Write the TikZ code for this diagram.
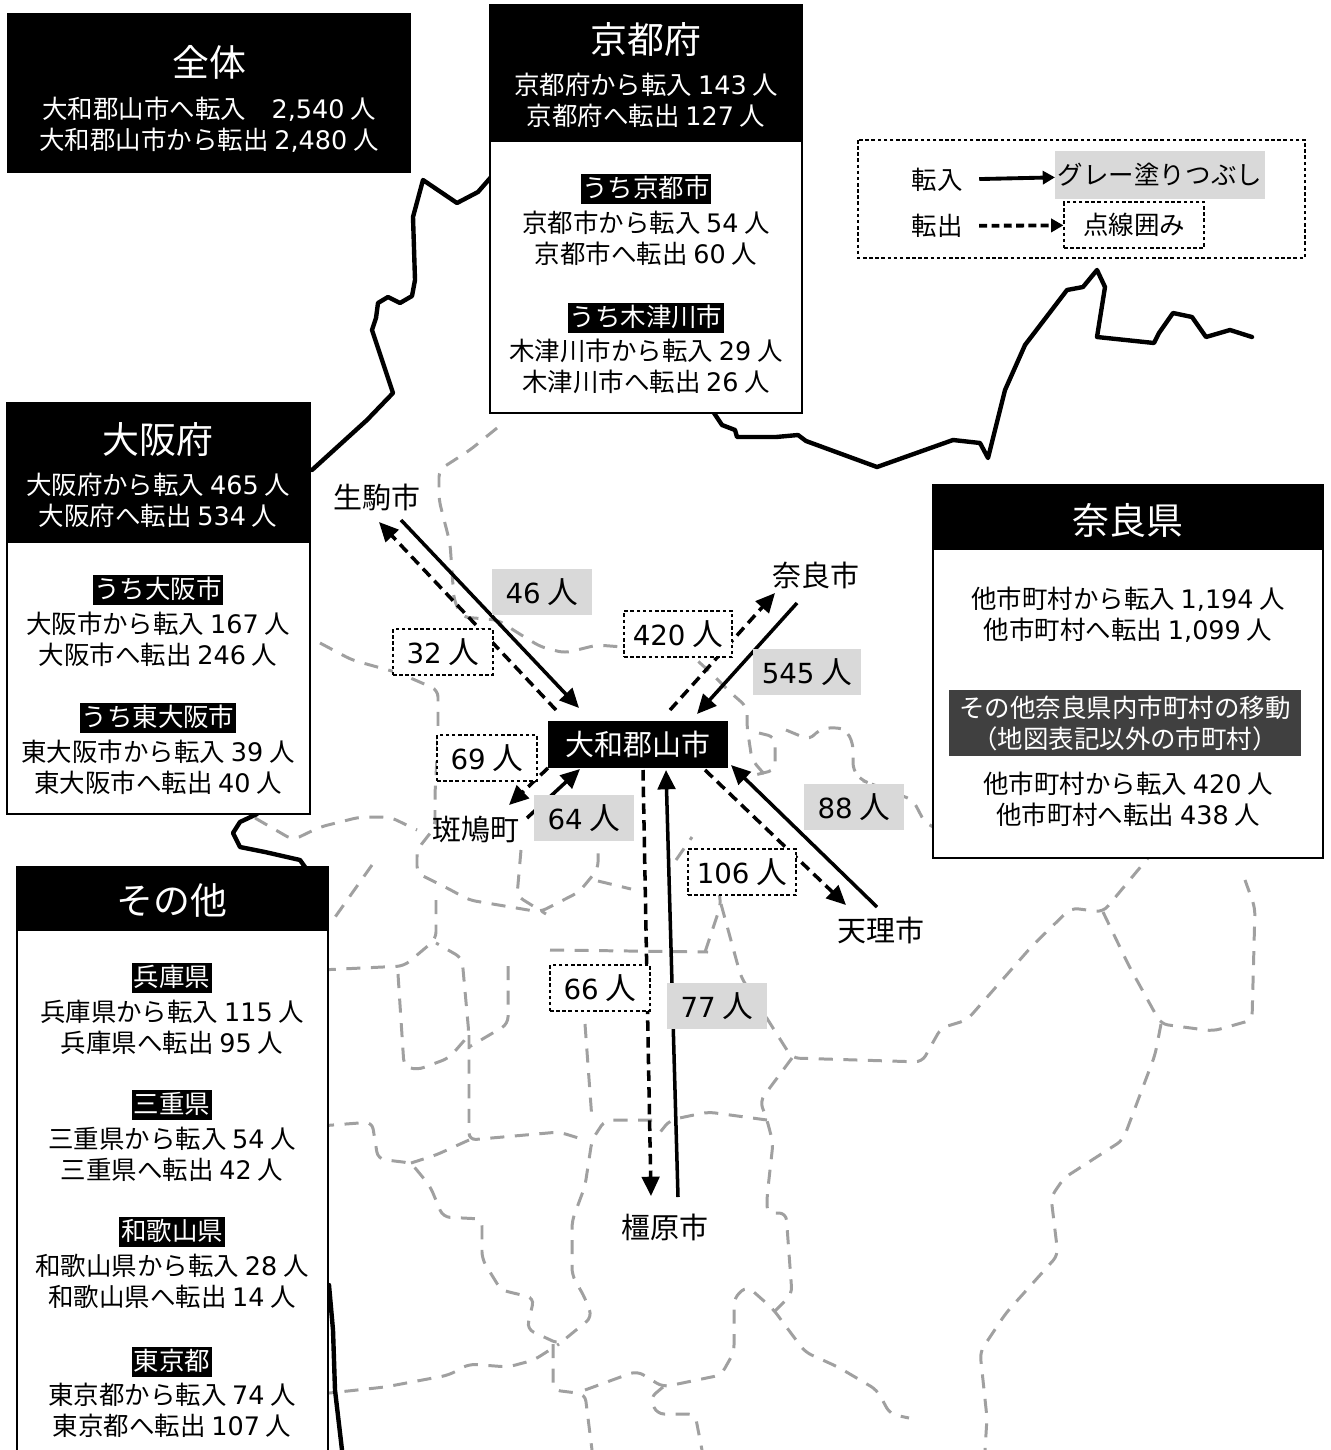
\documentclass[tikz,border=0pt]{standalone}
\usepackage{fontspec}
\setmainfont{Noto Sans CJK JP}
\newfontfamily\digitfont{DejaVu Sans}
\newfontfamily\mapdigitfont{DejaVu Sans}[Scale=0.9]
\usetikzlibrary{arrows.meta}
\definecolor{fillgray}{HTML}{D9D9D9}
\definecolor{notegray}{HTML}{404040}
\definecolor{wardgray}{HTML}{A0A0A0}
\newcommand\bodysize{\fontsize{14.5}{17.6}\selectfont}
\newcommand\headsize{\fontsize{21}{25}\selectfont}
\newcommand\citysize{\fontsize{16.5}{20}\selectfont}
\newcommand\numsize{\fontsize{17.5}{21}\selectfont}
\newcommand\digits[1]{{\digitfont #1}}
\newcommand\mapdigits[1]{{\mapdigitfont #1}}

\begin{document}
\begin{tikzpicture}[x=0.02cm, y=-0.02cm]
			\tikzset{
			  headfill/.style = {fill=black},
			  boxframe/.style = {draw=black, line width=1.2pt, fill=white},
			  headtitle/.style = {text=white, font=\headsize, inner sep=0pt},
			  headline/.style = {text=white, align=center, font=\bodysize, inner sep=0pt},
			  bodyline/.style = {align=center, font=\bodysize, inner sep=0pt},
			  subtag/.style = {fill=black, text=white, font=\bodysize, inner xsep=1pt,
			                   inner ysep=1.2pt, text height=12.6pt, text depth=2.4pt},
			  citylabel/.style = {font=\citysize, inner sep=1pt},
			  inbox/.style = {fill=fillgray, font=\numsize, minimum width=2cm,
			                  minimum height=0.92cm, inner xsep=5pt},
			  outbox/.style = {inbox, fill=white, draw=black, line width=0.7pt,
			                   dash pattern=on 2pt off 1.5pt},
			  inflow/.style = {line width=2pt, -{Triangle[length=11pt,width=10pt]}},
			  outflow/.style = {inflow, dash pattern=on 6pt off 3.5pt},
			  legendtip/.style = {line width=2.2pt, -{Triangle[length=7pt,width=7.5pt]}},
			  wardline/.style = {draw=wardgray, line width=1.7pt, rounded corners=4pt,
			                     dash pattern=on 8pt off 6pt},
			  prefline/.style = {draw=black, line width=2.5pt, line join=round, line cap=round}
			}
			\path[use as bounding box] (0,0) rectangle (1330,1450);
			\clip (0,0) rectangle (1330,1450);
			% municipal boundaries
			\draw[wardline] (497,428) -- (470,450) -- (439,470) -- (439,500) -- (450,543) -- (454,600)
			  -- (462,617) -- (498,620) -- (518,633) -- (541,647) -- (565,653) -- (597,645) -- (688,652)
			  -- (711,673) -- (731,693) -- (747,707) -- (747,727) -- (752,760) -- (765,775);
			\draw[wardline] (320,643) -- (352,660) -- (399,673) -- (438,690) -- (438,740) -- (435,793)
			  -- (435,827) -- (417,850) -- (417,873) -- (449,889) -- (469,900) -- (540,912) -- (579,892)
			  -- (598,869) -- (598,850);
			\draw[wardline] (255,818) -- (293,840) -- (320,827) -- (360,817) -- (390,817) -- (417,830);
			\draw[wardline] (372,865) -- (333,920);
			\draw[wardline] (521,850) -- (517,896) -- (546,914);
			\draw[wardline] (598,881) -- (631,889);
			\draw[wardline] (436,900) -- (436,939) -- (404,966) -- (320,970);
			\draw[wardline] (398,974) -- (404,1066) -- (417,1070) -- (449,1058) -- (469,1035) -- (462,958)
			  -- (436,943);
			\draw[wardline] (550,950) -- (708,952);
			\draw[wardline] (508,966) -- (508,1024) -- (469,1047);
			\draw[wardline] (705,952) -- (721,904) -- (713,860);
			\draw[wardline] (676,860) -- (692,837);
			\draw[wardline] (721,904) -- (741,977) -- (773,1028) -- (792,1058) -- (922,1062) -- (941,1028)
			  -- (967,1020) -- (1032,946) -- (1071,908) -- (1103,912) -- (1148,858);
			\draw[wardline] (1103,912) -- (1129,966) -- (1161,1024) -- (1213,1031) -- (1252,1020)
			  -- (1255,908) -- (1245,880);
			\draw[wardline] (1161,1024) -- (1155,1055) -- (1123,1140) -- (1064,1178) -- (1051,1197)
			  -- (1058,1255) -- (1006,1313) -- (980,1352) -- (987,1418) -- (985,1450);
			\draw[wardline] (792,1058) -- (760,1101) -- (767,1120) -- (773,1143) -- (767,1197) -- (767,1213)
			  -- (786,1213) -- (792,1294) -- (773,1313);
			\draw[wardline] (767,1120) -- (708,1112) -- (670,1120) -- (657,1136);
			\draw[wardline] (320,1126) -- (372,1122) -- (378,1159) -- (411,1163) -- (430,1186) -- (443,1217)
			  -- (482,1219) -- (482,1259) -- (501,1290) -- (534,1298) -- (527,1329) -- (559,1344)
			  -- (592,1317) -- (585,1298) -- (572,1275) -- (572,1221) -- (585,1186) -- (592,1140)
			  -- (605,1120) -- (657,1120);
			\draw[wardline] (469,1035) -- (469,1140) -- (514,1136) -- (559,1132) -- (585,1140);
			\draw[wardline] (469,1140) -- (436,1155) -- (411,1163);
			\draw[wardline] (585,1024) -- (592,1120);
			\draw[wardline] (320,1394) -- (385,1387) -- (449,1375) -- (469,1364) -- (508,1367) -- (534,1360)
			  -- (559,1344);
			\draw[wardline] (553,1344) -- (553,1390) -- (585,1394) -- (592,1450);
			\draw[wardline] (585,1390) -- (637,1371) -- (663,1387) -- (721,1375) -- (734,1352) -- (734,1298)
			  -- (747,1286) -- (773,1309) -- (805,1352) -- (838,1367) -- (877,1390) -- (890,1414) -- (909,1418);
			\draw[wardline] (663,1387) -- (650,1398) -- (657,1414) -- (695,1414) -- (702,1450);
			\draw[wardline] (759,733) -- (775,737) -- (775,770) -- (755,775);
			\draw[wardline] (786,730) -- (810,740) -- (818,730) -- (834,727) -- (846,730) -- (853,743)
			  -- (853,770) -- (861,780) -- (869,783) -- (913,800) -- (925,823) -- (940,830);
			% prefecture border
			\draw[prefline] (312,470) -- (367,420) -- (393,393) -- (372,330) -- (376,318) -- (378,303)
			  -- (388,297) -- (400,303) -- (412,296) -- (415,280) -- (413,217) -- (423,180) -- (457,203)
			  -- (478,192) -- (492,176);
			\draw[prefline] (714,413) -- (722,425) -- (735,430) -- (737,437) -- (776,437) -- (798,435)
			  -- (806,441) -- (877,467) -- (953,440) -- (980,443) -- (988,458) -- (1005,390) -- (1025,345)
			  -- (1067,290) -- (1083,287) -- (1097,270) -- (1105,287) -- (1097,337) -- (1154,343)
			  -- (1159,333) -- (1173,313) -- (1192,317) -- (1206,337) -- (1230,330) -- (1252,337);
			\draw[prefline] (257,814) -- (240,822) -- (233,833) -- (240,847) -- (265,852) -- (300,860)
			  -- (305,867);
			\draw[prefline] (329,1285) -- (333,1330) -- (335,1390) -- (342,1450);
			% total
			\fill[headfill] (7,13) rectangle (411,173);
			\node[headtitle] (all-title) at (209,62) {全体};
			\node[headline] (all-text) at (209,125) {大和郡山市へ転入　\digits{2,540} 人\\大和郡山市から転出 \digits{2,480} 人};
			% Kyoto
			\draw[boxframe] (490,5) rectangle (802,413);
			\fill[headfill] (490,5) rectangle (802,142);
			\node[headtitle] (kyoto-title) at (646,40) {京都府};
			\node[headline] (kyoto-text) at (646,100) {京都府から転入 \digits{143} 人\\京都府へ転出 \digits{127} 人};
			\node[subtag] (kyotocity-tag) at (646,189) {うち京都市};
			\node[bodyline] (kyotocity-text) at (646,238) {京都市から転入 \digits{54} 人\\京都市へ転出 \digits{60} 人};
			\node[subtag] (kizu-tag) at (646,318) {うち木津川市};
			\node[bodyline] (kizu-text) at (646,366) {木津川市から転入 \digits{29} 人\\木津川市へ転出 \digits{26} 人};
			% legend
			\draw[line width=0.7pt, dash pattern=on 2pt off 1.5pt] (858,140) rectangle (1305,258);
			\node[font=\bodysize] (legend-in) at (937,180) {転入};
			\node[fill=fillgray, font=\bodysize, inner xsep=1.5pt, minimum height=0.98cm] (legend-fill) at (1160,175) {グレー塗りつぶし};
			\node[font=\bodysize] (legend-out) at (937,226) {転出};
			\node[draw, line width=0.7pt, dash pattern=on 2pt off 1.5pt, font=\bodysize,
			      minimum width=2.8cm, minimum height=0.92cm] (legend-dash) at (1134,225) {点線囲み};
			\draw[legendtip, shorten <=6pt] (legend-in) -- (legend-fill);
			\draw[legendtip, dash pattern=on 4.5pt off 2.5pt, shorten <=6pt] (legend-out) -- (legend-dash);
			% Osaka
			\draw[boxframe] (7,403) rectangle (310,814);
			\fill[headfill] (7,403) rectangle (310,543);
			\node[headtitle] (osaka-title) at (158,440) {大阪府};
			\node[headline] (osaka-text) at (158,500) {大阪府から転入 \digits{465} 人\\大阪府へ転出 \digits{534} 人};
			\node[subtag] (osakacity-tag) at (158,590) {うち大阪市};
			\node[bodyline] (osakacity-text) at (158,639) {大阪市から転入 \digits{167} 人\\大阪市へ転出 \digits{246} 人};
			\node[subtag] (higashi-tag) at (158,718) {うち東大阪市};
			\node[bodyline] (higashi-text) at (158,767) {東大阪市から転入 \digits{39} 人\\東大阪市へ転出 \digits{40} 人};
			% Nara
			\draw[boxframe] (933,485) rectangle (1323,858);
			\fill[headfill] (933,485) rectangle (1323,550);
			\node[headtitle] (nara-title) at (1128,520) {奈良県};
			\node[bodyline] (nara-text) at (1128,615) {他市町村から転入 \digits{1,194} 人\\他市町村へ転出 \digits{1,099} 人};
			\node[fill=notegray, text=white, align=center, font=\bodysize,
			      minimum width=7.04cm, minimum height=1.32cm, inner sep=0pt] (nara-note) at (1125,723)
			      {その他奈良県内市町村の移動\\（地図表記以外の市町村）};
			\node[bodyline] (nara-rest) at (1128,799) {他市町村から転入 \digits{420} 人\\他市町村へ転出 \digits{438} 人};
			% others
			\draw[boxframe] (17,867) rectangle (328,1480);
			\fill[headfill] (17,867) rectangle (328,931);
			\node[headtitle] (other-title) at (172,900) {その他};
			\node[subtag] (hyogo-tag) at (172,978) {兵庫県};
			\node[bodyline] (hyogo-text) at (172,1027) {兵庫県から転入 \digits{115} 人\\兵庫県へ転出 \digits{95} 人};
			\node[subtag] (mie-tag) at (172,1105) {三重県};
			\node[bodyline] (mie-text) at (172,1154) {三重県から転入 \digits{54} 人\\三重県へ転出 \digits{42} 人};
			\node[subtag] (waka-tag) at (172,1232) {和歌山県};
			\node[bodyline] (waka-text) at (172,1281) {和歌山県から転入 \digits{28} 人\\和歌山県へ転出 \digits{14} 人};
			\node[subtag] (tokyo-tag) at (172,1362) {東京都};
			\node[bodyline] (tokyo-text) at (172,1410) {東京都から転入 \digits{74} 人\\東京都へ転出 \digits{107} 人};
			% flows
			\coordinate (ik1) at (401,520);  \coordinate (yk1) at (579,708);
			\coordinate (yk2) at (556,710);  \coordinate (ik2) at (379,522);
			\coordinate (nr1) at (797,603);  \coordinate (yk3) at (697,714);
			\coordinate (yk4) at (670,710);  \coordinate (nr2) at (775,593);
			\coordinate (ig1) at (527,818);  \coordinate (yk5) at (580,769);
			\coordinate (yk6) at (548,768);  \coordinate (ig2) at (509,805);
			\coordinate (tr1) at (877,907);  \coordinate (yk7) at (731,765);
			\coordinate (yk8) at (705,770);  \coordinate (tr2) at (846,905);
			\coordinate (kh1) at (678,1197); \coordinate (yk9) at (666,770);
			\coordinate (yk10) at (643,770); \coordinate (kh2) at (651,1196);
			\draw[inflow] (ik1) -- (yk1);
			\draw[outflow] (yk2) -- (ik2);
			\draw[inflow] (nr1) -- (yk3);
			\draw[outflow] (yk4) -- (nr2);
			\draw[inflow] (ig1) -- (yk5);
			\draw[outflow] (yk6) -- (ig2);
			\draw[inflow] (tr1) -- (yk7);
			\draw[outflow] (yk8) -- (tr2);
			\draw[inflow] (kh1) -- (yk9);
			\draw[outflow] (yk10) -- (kh2);
			% counts
			\node[inbox] (ikoma-in) at (542,592) {\mapdigits{46} 人};
			\node[outbox] (ikoma-out) at (443,652) {\mapdigits{32} 人};
			\node[inbox] (nara-in) at (807,672) {\mapdigits{545} 人};
			\node[outbox] (nara-out) at (678,634) {\mapdigits{420} 人};
			\node[inbox] (ikaruga-in) at (584,818) {\mapdigits{64} 人};
			\node[outbox] (ikaruga-out) at (487,758) {\mapdigits{69} 人};
			\node[inbox] (tenri-in) at (854,807) {\mapdigits{88} 人};
			\node[outbox] (tenri-out) at (742,872) {\mapdigits{106} 人};
			\node[inbox] (kashi-in) at (717,1006) {\mapdigits{77} 人};
			\node[outbox] (kashi-out) at (600,988) {\mapdigits{66} 人};
			% places
			\node[fill=black, text=white, font=\citysize, minimum width=3.6cm, minimum height=0.94cm] (yk) at (638,744) {大和郡山市};
			\node[citylabel] (ikoma) at (377,497) {生駒市};
			\node[citylabel] (nara) at (816,575) {奈良市};
			\node[citylabel] (ikaruga) at (476,830) {斑鳩町};
			\node[citylabel] (tenri) at (881,930) {天理市};
			\node[citylabel] (kashihara) at (665,1227) {橿原市};
\end{tikzpicture}
\end{document}
